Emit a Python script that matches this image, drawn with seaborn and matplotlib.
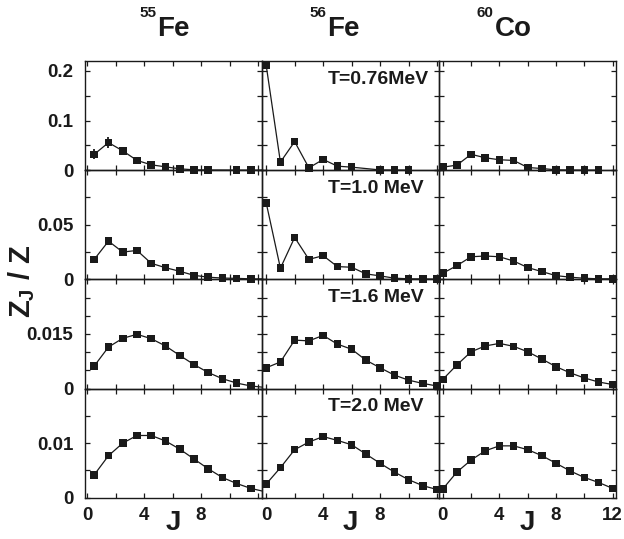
import numpy as np
import pandas as pd
import matplotlib
matplotlib.use("Agg")
import matplotlib.pyplot as plt
import seaborn as sns
from matplotlib.ticker import FixedLocator, FuncFormatter

# ---------------- data ----------------
nuclei = ["55Fe", "56Fe", "60Co"]
temps = ["T=0.76MeV", "T=1.0 MeV", "T=1.6 MeV", "T=2.0 MeV"]

J_half = [0.5, 1.5, 2.5, 3.5, 4.5, 5.5, 6.5, 7.5, 8.5, 9.5, 10.5, 11.5, 12.5]
J_int = [0, 1, 2, 3, 4, 5, 6, 7, 8, 9, 10, 11, 12]

nan = np.nan
fe55_T076 = [0.032, 0.0556, 0.039, 0.0197, 0.0108, 0.0068, 0.0027, 0.0008, 0.0004, nan, 0.0002, 0.0001, 0.0001]
fe55_T076_err = [0.010, 0.011, 0.008, 0, 0, 0, 0, 0, 0, 0, 0, 0, 0]
fe55_T100 = [0.0183, 0.035, 0.025, 0.0265, 0.0147, 0.0107, 0.0074, 0.0037, 0.002, 0.0012, 0.0009, 0.0005, 0.0003]
fe55_T160 = [0.0062, 0.0114, 0.0138, 0.0149, 0.0137, 0.0117, 0.0091, 0.0066, 0.0044, 0.0027, 0.0015, 0.0007, 0.0003]
fe55_T200 = [0.0042, 0.0077, 0.0100, 0.0114, 0.0114, 0.0104, 0.0089, 0.0071, 0.0053, 0.0037, 0.0026, 0.0017, 0.0011]

fe56_T076 = [0.2116, 0.0163, 0.0576, 0.0047, 0.0217, 0.0081, 0.0061, nan, 0.0005, 0.0003, 0.0002, nan, nan]
fe56_T100 = [0.0702, 0.0102, 0.0384, 0.0183, 0.0217, 0.0117, 0.0111, 0.005, 0.0032, 0.0011, 0.0005, 0.0004, 0.0002]
fe56_T160 = [0.0057, 0.0073, 0.0133, 0.0131, 0.0146, 0.0122, 0.0108, 0.0078, 0.0057, 0.0037, 0.0023, 0.0014, 0.0007]
fe56_T200 = [0.0025, 0.0055, 0.0088, 0.0102, 0.0112, 0.0105, 0.0097, 0.008, 0.0063, 0.0047, 0.0033, 0.0022, 0.0015]

co60_T076 = [0.0061, 0.0102, 0.032, 0.025, 0.021, 0.0197, 0.0054, 0.0034, 0.0007, 0.0003, 0.0002, 0.0002, nan]
co60_T100 = [0.0056, 0.0126, 0.0207, 0.0214, 0.0207, 0.0168, 0.0108, 0.0071, 0.0034, 0.002, 0.001, 0.0005, 0.0005]
co60_T160 = [0.0025, 0.0065, 0.0101, 0.0117, 0.0124, 0.0116, 0.0101, 0.0081, 0.006, 0.0043, 0.0029, 0.0018, 0.0011]
co60_T200 = [0.0016, 0.0047, 0.0069, 0.0086, 0.0095, 0.0095, 0.0088, 0.0077, 0.0063, 0.0049, 0.0037, 0.0028, 0.0017]

zero_err = [0] * 13
series = {
    ("55Fe", 0): (J_half, fe55_T076, fe55_T076_err),
    ("55Fe", 1): (J_half, fe55_T100, zero_err),
    ("55Fe", 2): (J_half, fe55_T160, zero_err),
    ("55Fe", 3): (J_half, fe55_T200, zero_err),
    ("56Fe", 0): (J_int, fe56_T076, zero_err),
    ("56Fe", 1): (J_int, fe56_T100, zero_err),
    ("56Fe", 2): (J_int, fe56_T160, zero_err),
    ("56Fe", 3): (J_int, fe56_T200, zero_err),
    ("60Co", 0): (J_int, co60_T076, zero_err),
    ("60Co", 1): (J_int, co60_T100, zero_err),
    ("60Co", 2): (J_int, co60_T160, zero_err),
    ("60Co", 3): (J_int, co60_T200, zero_err),
}

rows = []
for (nuc, r), (js, zs, es) in series.items():
    for j, z, e in zip(js, zs, es):
        rows.append(dict(nucleus=nuc, T=temps[r], J=j, Z=z, err=e))
df = pd.DataFrame(rows)

row_ylim = [0.22, 0.1, 0.03, 0.02]
row_yticks = [np.arange(0, 0.2001, 0.05), np.arange(0, 0.1001, 0.025),
              np.arange(0, 0.0301, 0.005), np.arange(0, 0.0201, 0.005)]
row_ylabels = [[0, 0.1, 0.2], [0, 0.05], [0, 0.015], [0, 0.01]]
col_xlim = [(-0.15, 12.27), (-0.3, 12.12), (-0.28, 12.21)]
col_xlabels = [[0, 4, 8], [0, 4, 8], [0, 4, 8, 12]]

# ---------------- style ----------------
sns.set_theme(style="ticks")
plt.rcParams["font.family"] = ["Liberation Sans", "DejaVu Sans"]
plt.rcParams["font.weight"] = "bold"
plt.rcParams["mathtext.fontset"] = "custom"
plt.rcParams["mathtext.rm"] = "Liberation Sans:bold"
plt.rcParams["mathtext.it"] = "Liberation Sans:bold"
plt.rcParams["mathtext.bf"] = "Liberation Sans:bold"

ink = "#1a1a1a"
fig = plt.figure(figsize=(6.24, 5.39), dpi=100)
axes = fig.subplots(4, 3, gridspec_kw=dict(wspace=0, hspace=0))
fig.subplots_adjust(left=0.1362, right=0.9867, top=0.8868, bottom=0.0766)


def make_yfmt(labels):
    def f(v, pos):
        for l in labels:
            if np.isclose(v, l, atol=1e-9):
                return "0" if l == 0 else f"{l:g}"
        return ""
    return f


def make_xfmt(labels):
    def f(v, pos):
        for l in labels:
            if np.isclose(v, l):
                return f"{int(l)}"
        return ""
    return f


for r in range(4):
    for c in range(3):
        ax = axes[r, c]
        ax.set_facecolor("none")
        sub = df[(df.nucleus == nuclei[c]) & (df["T"] == temps[r])].dropna(subset=["Z"])
        sns.lineplot(data=sub, x="J", y="Z", ax=ax, color=ink, lw=0.9,
                     estimator=None, sort=True, zorder=2)
        lo, hi = col_xlim[c]
        vis = sub[(sub.J >= lo) & (sub.J <= hi)]
        sns.scatterplot(data=vis, x="J", y="Z", ax=ax, marker="s", s=30,
                        color=ink, edgecolor="none", linewidth=0,
                        clip_on=False, zorder=3)
        eb = vis[vis.err > 0]
        if len(eb):
            ax.errorbar(eb.J, eb.Z, yerr=eb.err, fmt="none", ecolor=ink,
                        elinewidth=1.3, capsize=0, zorder=2)
        ax.set_xlim(lo, hi)
        ax.set_ylim(0, row_ylim[r])
        ax.xaxis.set_major_locator(FixedLocator(np.arange(0, 13, 2)))
        ax.yaxis.set_major_locator(FixedLocator(row_yticks[r]))
        ax.xaxis.set_major_formatter(FuncFormatter(make_xfmt(col_xlabels[c])))
        ax.yaxis.set_major_formatter(FuncFormatter(make_yfmt(row_ylabels[r])))
        ax.tick_params(axis="both", direction="in", length=3.5, width=0.9,
                       top=True, right=True, labelsize=13.5, colors=ink)
        ax.tick_params(axis="y", pad=8.5)
        ax.tick_params(axis="x", pad=6.5)
        ax.tick_params(labelleft=(c == 0), labelbottom=(r == 3))
        for sp in ax.spines.values():
            sp.set_linewidth(1.0)
            sp.set_color(ink)
            sp.set_visible(True)
        ax.set_ylabel("")
        if r == 3:
            ax.set_xlabel("J", fontsize=20, fontweight="bold", color=ink)
            ax.xaxis.set_label_coords(0.5, -0.232)
            ax.xaxis.label.set_va("center")
        else:
            ax.set_xlabel("")
        if c == 1:
            ax.text(0.373, 0.79, temps[r], transform=ax.transAxes, ha="left",
                    va="baseline", fontsize=14, fontweight="bold", color=ink)

# column titles
W, H = 624.0, 539.0
titles = [("55", "Fe", 156.0, 157.3), ("56", "Fe", 326.7, 327.3), ("60", "Co", 493.3, 495.0)]
for sup, el, xr, xl in titles:
    fig.text(xr / W, 1 - 17.3 / H, sup, ha="right", va="baseline",
             fontsize=11, fontweight="bold", color=ink)
    fig.text(xl / W, 1 - 36.0 / H, el, ha="left", va="baseline",
             fontsize=20, fontweight="bold", color=ink)

fig.text(22 / W, 1 - 281 / H, r"$Z_J$ / Z", rotation=90, ha="center", va="center",
         fontsize=21, fontweight="bold", color=ink)

fig.savefig("out.png", dpi=100)
